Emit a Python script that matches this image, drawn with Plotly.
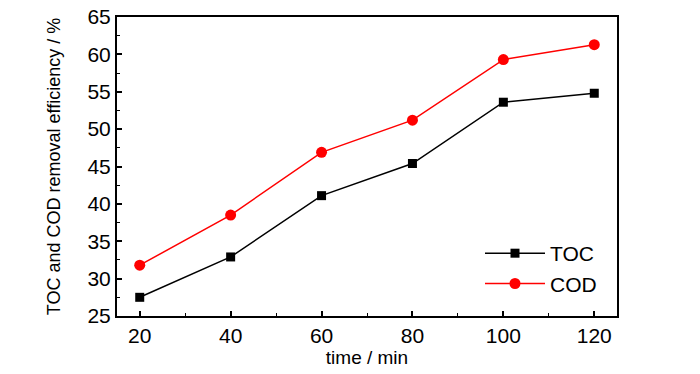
import plotly.graph_objects as go

time_min = [20, 40, 60, 80, 100, 120]
toc = [27.5, 32.9, 41.1, 45.4, 53.6, 54.8]
cod = [31.8, 38.5, 46.9, 51.2, 59.3, 61.3]

FONT = "Liberation Sans Narrow, Arial Narrow, Liberation Sans, Arial, sans-serif"

fig = go.Figure()
fig.add_trace(go.Scatter(x=time_min, y=toc, name="TOC", mode="lines+markers",
                         line=dict(color="black", width=1.5),
                         marker=dict(symbol="square", size=9, color="black")))
fig.add_trace(go.Scatter(x=time_min, y=cod, name="COD", mode="lines+markers",
                         line=dict(color="#ff0000", width=1.5),
                         marker=dict(symbol="circle", size=11, color="#ff0000")))

axis_common = dict(showline=True, linecolor="black", linewidth=2, mirror=True,
                   ticks="inside", ticklen=5, tickwidth=1.5, tickcolor="black",
                   showgrid=False, zeroline=False, automargin=False,
                   tickfont=dict(family=FONT, size=21, color="black"))

fig.update_xaxes(range=[15, 125], tickvals=[20, 40, 60, 80, 100, 120],
                 minor=dict(ticks="inside", ticklen=3, tickwidth=1, tickcolor="black",
                            tickvals=[30, 50, 70, 90, 110]),
                 title=dict(text="time / min", font=dict(family=FONT, size=19, color="black"),
                            standoff=4),
                 **axis_common)
fig.update_yaxes(range=[25, 65], tickvals=[25, 30, 35, 40, 45, 50, 55, 60, 65],
                 minor=dict(ticks="inside", ticklen=3, tickwidth=1, tickcolor="black",
                            dtick=2.5),
                 title=dict(text="TOC and COD removal efficiency / %",
                            font=dict(family=FONT, size=18, color="black"), standoff=22),
                 **axis_common)

fig.update_layout(width=700, height=374, margin=dict(l=117, r=83, t=17, b=58),
                  plot_bgcolor="white", paper_bgcolor="white",
                  legend=dict(x=0.97, y=0.04, xanchor="right", yanchor="bottom",
                              bgcolor="rgba(0,0,0,0)", itemwidth=60,
                              font=dict(family=FONT, size=21, color="black"),
                              tracegroupgap=2))
fig.write_html("out.html", config={"displayModeBar": False},
               post_script="document.body.style.margin='0';document.body.style.overflow='hidden';")
